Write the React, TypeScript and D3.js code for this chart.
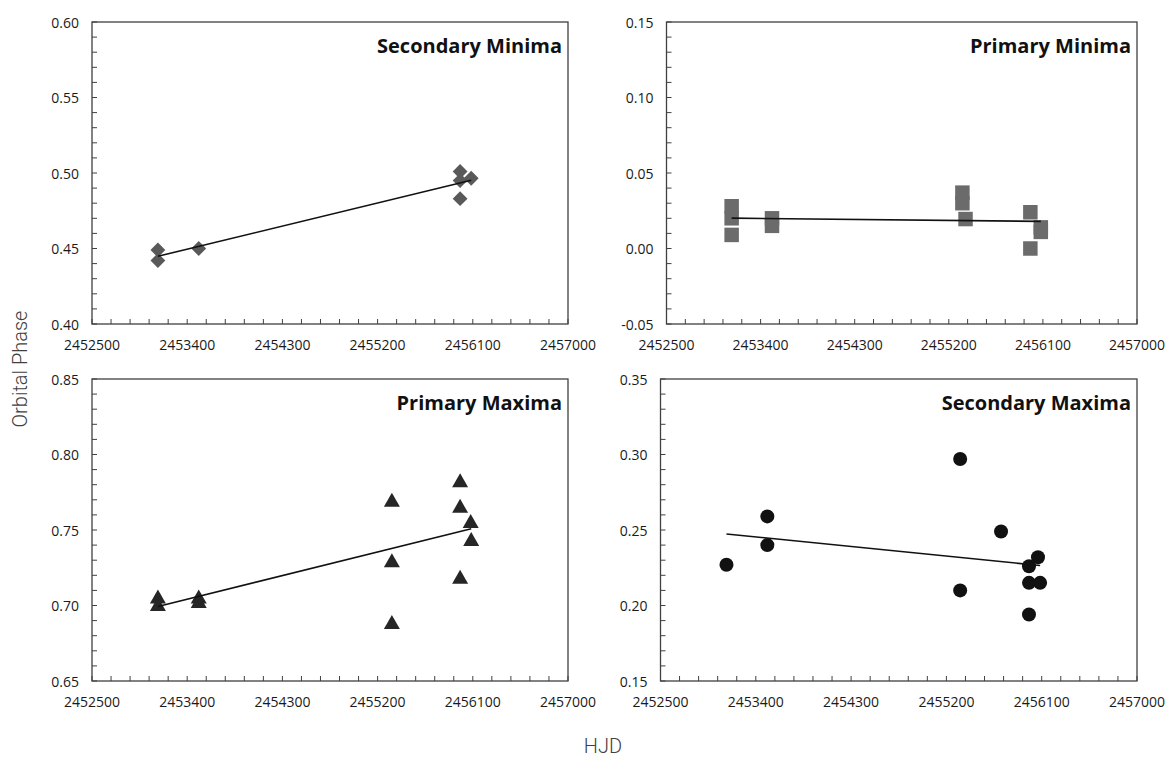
import React from "react";
import * as d3 from "d3";

// ---- Observed timings (HJD) and orbital phases for each light-curve feature ----
const secMinHJD = [2453123, 2453123, 2453509, 2455980, 2455980, 2455980, 2456085];
const secMinPhase = [0.449, 0.442, 0.45, 0.501, 0.495, 0.483, 0.4965];

const primMinHJD = [
  2453123, 2453123, 2453123, 2453509, 2453509, 2455330, 2455330, 2455360,
  2455980, 2455980, 2456080, 2456080,
];
const primMinPhase = [
  0.028, 0.02, 0.009, 0.02, 0.015, 0.037, 0.03, 0.0195, 0.024, 0.0, 0.014, 0.011,
];

const primMaxHJD = [
  2453123, 2453123, 2453509, 2453509, 2455335, 2455335, 2455335, 2455980,
  2455980, 2455980, 2456080, 2456085,
];
const primMaxPhase = [
  0.706, 0.701, 0.706, 0.703, 0.77, 0.73, 0.689, 0.783, 0.766, 0.719, 0.756, 0.744,
];

const secMaxHJD = [
  2453123, 2453509, 2453509, 2455330, 2455330, 2455716, 2455980, 2455980,
  2455980, 2456065, 2456085,
];
const secMaxPhase = [
  0.227, 0.259, 0.24, 0.297, 0.21, 0.249, 0.226, 0.215, 0.194, 0.232, 0.215,
];

// ---- Axis ticks ----
const hjdTicks = [2452500, 2453400, 2454300, 2455200, 2456100, 2457000];
const secMinTicks = [0.4, 0.45, 0.5, 0.55, 0.6];
const primMinTicks = [-0.05, 0.0, 0.05, 0.1, 0.15];
const primMaxTicks = [0.65, 0.7, 0.75, 0.8, 0.85];
const secMaxTicks = [0.15, 0.2, 0.25, 0.3, 0.35];

const HJD_MIN = 2452500;
const HJD_MAX = 2457000;
const HJD_MINOR_STEP = 180;
const PHASE_MINOR_STEP = 0.01;

type Marker = "diamond" | "square" | "triangle" | "circle";

interface Panel {
  title: string;
  hjd: number[];
  phase: number[];
  ticks: number[];
  marker: Marker;
  color: string;
  left: number;
  right: number;
  top: number;
  bottom: number;
}

const panels: Panel[] = [
  {
    title: "Secondary Minima",
    hjd: secMinHJD,
    phase: secMinPhase,
    ticks: secMinTicks,
    marker: "diamond",
    color: "#595959",
    left: 92,
    right: 568,
    top: 22,
    bottom: 324,
  },
  {
    title: "Primary Minima",
    hjd: primMinHJD,
    phase: primMinPhase,
    ticks: primMinTicks,
    marker: "square",
    color: "#6b6b6b",
    left: 666.5,
    right: 1137,
    top: 22,
    bottom: 324,
  },
  {
    title: "Primary Maxima",
    hjd: primMaxHJD,
    phase: primMaxPhase,
    ticks: primMaxTicks,
    marker: "triangle",
    color: "#262626",
    left: 92,
    right: 568,
    top: 379,
    bottom: 681,
  },
  {
    title: "Secondary Maxima",
    hjd: secMaxHJD,
    phase: secMaxPhase,
    ticks: secMaxTicks,
    marker: "circle",
    color: "#111111",
    left: 660.5,
    right: 1137,
    top: 379,
    bottom: 681,
  },
];

const AXIS_COLOR = "#404040";
const LABEL_FONT = "'Open Sans', 'Noto Sans', sans-serif";

// Least-squares straight line through a series
function linearFit(xs: number[], ys: number[]) {
  const mx = d3.mean(xs) as number;
  const my = d3.mean(ys) as number;
  let sxy = 0;
  let sxx = 0;
  xs.forEach((x, i) => {
    sxy += (x - mx) * (ys[i] - my);
    sxx += (x - mx) * (x - mx);
  });
  const slope = sxy / sxx;
  return (x: number) => my + slope * (x - mx);
}

const diamondPath = d3.symbol(d3.symbolSquare, 110)() as string;
const squarePath = d3.symbol(d3.symbolSquare, 210)() as string;
const trianglePath = "M0,-7L8,7L-8,7Z";

function MarkerShape({ kind, x, y, color }: { kind: Marker; x: number; y: number; color: string }) {
  if (kind === "circle") return <circle cx={x} cy={y} r={7} fill={color} />;
  if (kind === "diamond")
    return <path d={diamondPath} transform={`translate(${x},${y}) rotate(45)`} fill={color} />;
  if (kind === "square")
    return <path d={squarePath} transform={`translate(${x},${y})`} fill={color} />;
  return <path d={trianglePath} transform={`translate(${x},${y})`} fill={color} />;
}

function ChartPanel({ p }: { p: Panel }) {
  const yMin = p.ticks[0];
  const yMax = p.ticks[p.ticks.length - 1];
  const x = d3.scaleLinear().domain([HJD_MIN, HJD_MAX]).range([p.left, p.right]);
  const y = d3.scaleLinear().domain([yMin, yMax]).range([p.bottom, p.top]);

  const xMinor = d3.range(HJD_MIN, HJD_MAX + 1, HJD_MINOR_STEP);
  const nMinorY = Math.round((yMax - yMin) / PHASE_MINOR_STEP);
  const yMinor = d3.range(0, nMinorY + 1).map((i) => yMin + i * PHASE_MINOR_STEP);

  const fit = linearFit(p.hjd, p.phase);
  const x0 = d3.min(p.hjd) as number;
  const x1 = d3.max(p.hjd) as number;
  const trend = d3.line<number>().x((d) => x(d)).y((d) => y(fit(d)))([x0, x1]) as string;

  return (
    <g>
      {/* tick marks, drawn inward */}
      {xMinor.map((t) => (
        <line
          key={`xt${t}`}
          x1={x(t)}
          x2={x(t)}
          y1={p.bottom}
          y2={p.bottom - 5}
          stroke={AXIS_COLOR}
          strokeWidth={1}
        />
      ))}
      {yMinor.map((t, i) => (
        <line
          key={`yt${i}`}
          x1={p.left}
          x2={p.left + 5}
          y1={y(t)}
          y2={y(t)}
          stroke={AXIS_COLOR}
          strokeWidth={1}
        />
      ))}
      {/* plot frame */}
      <rect
        x={p.left}
        y={p.top}
        width={p.right - p.left}
        height={p.bottom - p.top}
        fill="none"
        stroke={AXIS_COLOR}
        strokeWidth={1.3}
      />
      {/* tick labels */}
      {hjdTicks.map((t) => (
        <text
          key={`xl${t}`}
          x={x(t)}
          y={p.bottom + 20}
          textAnchor="middle"
          dominantBaseline="central"
          fontFamily={LABEL_FONT}
          fontSize={14}
          fill="#1a1a1a"
        >
          {String(t)}
        </text>
      ))}
      {p.ticks.map((t) => (
        <text
          key={`yl${t}`}
          x={p.left - 13}
          y={y(t)}
          textAnchor="end"
          dominantBaseline="central"
          fontFamily={LABEL_FONT}
          fontSize={14}
          fill="#1a1a1a"
        >
          {t.toFixed(2)}
        </text>
      ))}
      {/* data markers */}
      {p.hjd.map((h, i) => (
        <MarkerShape key={`m${i}`} kind={p.marker} x={x(h)} y={y(p.phase[i])} color={p.color} />
      ))}
      {/* linear trend */}
      <path d={trend} fill="none" stroke="#111" strokeWidth={1.6} />
      {/* panel title */}
      <text
        x={p.right - 6}
        y={p.top + 31}
        textAnchor="end"
        fontFamily={LABEL_FONT}
        fontWeight={700}
        fontSize={20}
        fill="#111"
      >
        {p.title}
      </text>
    </g>
  );
}

export default function App() {
  return (
    <svg
      width={1167}
      height={760}
      style={{ position: "absolute", left: 0, top: 0, background: "#fff" }}
    >
      <rect x={0} y={0} width={1167} height={760} fill="#fff" />
      {panels.map((p) => (
        <ChartPanel key={p.title} p={p} />
      ))}
      <text
        transform="translate(27,369) rotate(-90)"
        textAnchor="middle"
        fontFamily="Roboto, 'Liberation Sans', sans-serif"
        fontWeight={300}
        fontSize={20}
        fill="#404040"
      >
        Orbital Phase
      </text>
      <text
        x={603}
        y={753}
        textAnchor="middle"
        fontFamily="Roboto, 'Liberation Sans', sans-serif"
        fontWeight={300}
        fontSize={20}
        fill="#404040"
      >
        HJD
      </text>
    </svg>
  );
}
